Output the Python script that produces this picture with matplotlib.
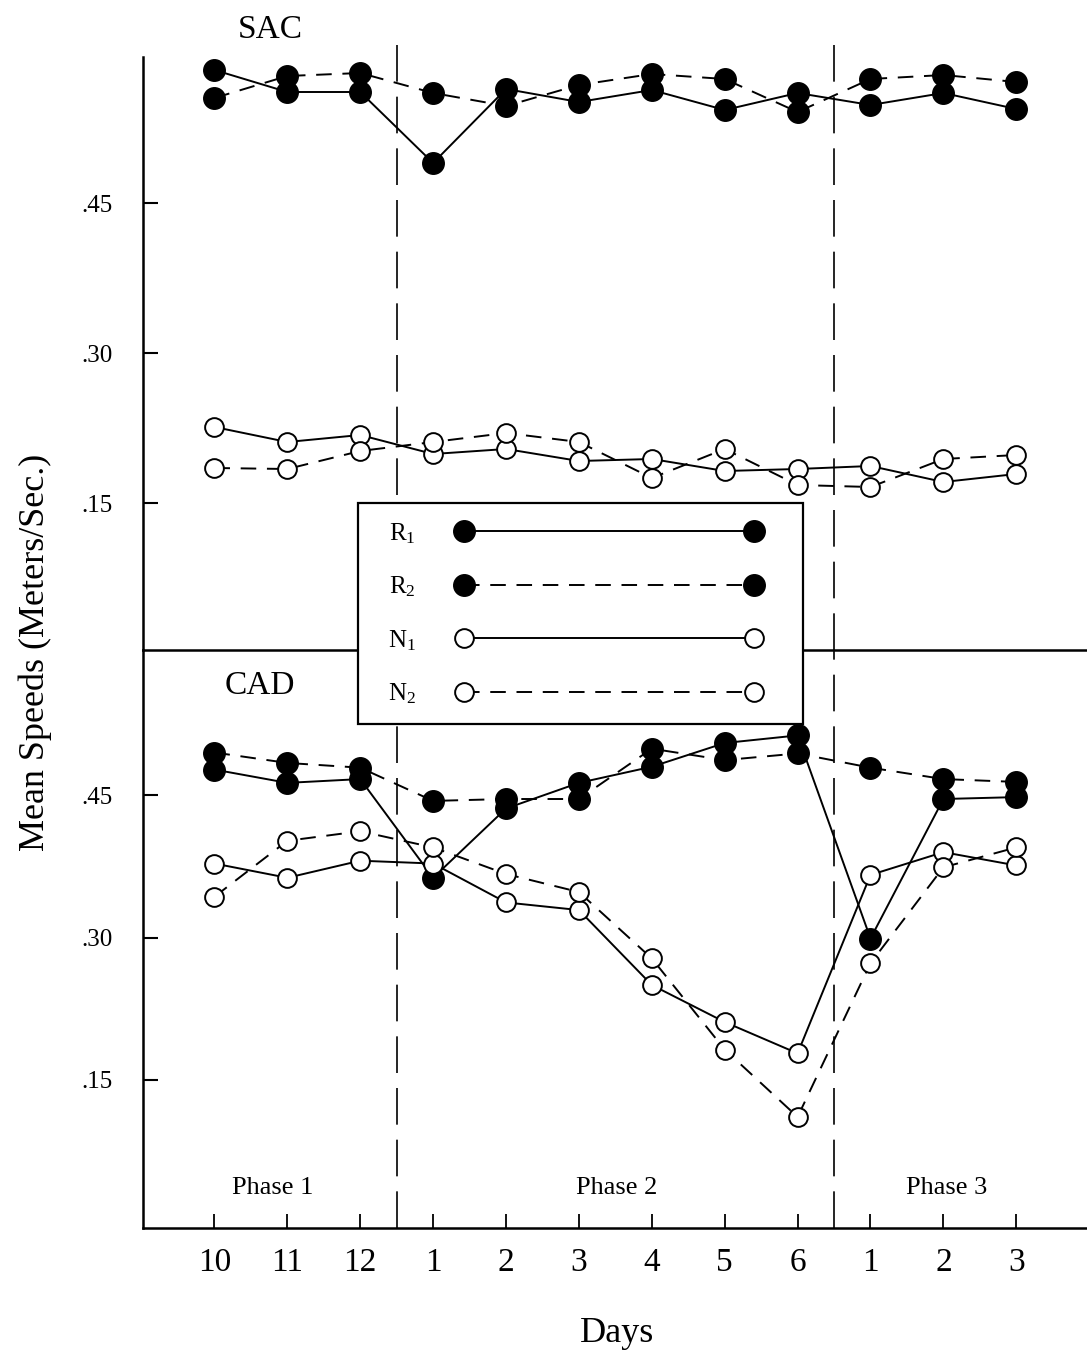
import matplotlib
matplotlib.use("Agg")
import matplotlib.pyplot as plt
from matplotlib.patches import Rectangle

plt.rcParams["font.family"] = "Liberation Serif"
plt.rcParams["mathtext.fontset"] = "custom"
plt.rcParams["mathtext.rm"] = "Liberation Serif"
plt.rcParams["mathtext.it"] = "Liberation Serif:italic"

days = ["10", "11", "12", "1", "2", "3", "4", "5", "6", "1", "2", "3"]
phases = ["Phase 1", "Phase 2", "Phase 3"]
phase_centers = [0.8, 5.52, 10.04]
phase_breaks = [2.5, 8.5]

# SAC (top panel)
sac_r1 = [0.583, 0.561, 0.561, 0.490, 0.564, 0.551, 0.563, 0.543, 0.560, 0.548, 0.560, 0.544]
sac_r2 = [0.555, 0.577, 0.580, 0.560, 0.547, 0.568, 0.579, 0.574, 0.541, 0.574, 0.578, 0.571]
sac_n1 = [0.226, 0.211, 0.218, 0.199, 0.204, 0.192, 0.194, 0.182, 0.184, 0.187, 0.171, 0.179]
sac_n2 = [0.185, 0.184, 0.202, 0.211, 0.220, 0.211, 0.175, 0.204, 0.168, 0.166, 0.194, 0.198]

# CAD (bottom panel)
cad_r1 = [0.477, 0.463, 0.467, 0.363, 0.436, 0.463, 0.480, 0.505, 0.513, 0.299, 0.446, 0.448]
cad_r2 = [0.495, 0.484, 0.479, 0.444, 0.446, 0.446, 0.499, 0.487, 0.494, 0.479, 0.467, 0.464]
cad_n1 = [0.378, 0.363, 0.381, 0.378, 0.337, 0.329, 0.250, 0.211, 0.178, 0.366, 0.390, 0.376]
cad_n2 = [0.343, 0.402, 0.412, 0.395, 0.367, 0.348, 0.278, 0.182, 0.111, 0.273, 0.374, 0.395]

labels = ["R$_1$", "R$_2$", "N$_1$", "N$_2$"]
yticks = [0.15, 0.30, 0.45]
ytick_labels = [".15", ".30", ".45"]

x = list(range(len(days)))
W, H = 1087, 1352
fig = plt.figure(figsize=(W / 100, H / 100), dpi=100)

left = 143 / W
ax_top = fig.add_axes([left, 1 - 650 / H, 1 - left, (650 - 57) / H])
ax_bot = fig.add_axes([left, 1 - 1228 / H, 1 - left, (1228 - 650) / H])

dash = (0, (8, 5.5))
styles = [
    dict(color="black", lw=1.4, ls="-", marker="o", ms=15.5, mfc="black", mec="black"),
    dict(color="black", lw=1.4, ls=dash, marker="o", ms=15.5, mfc="black", mec="black"),
    dict(color="black", lw=1.4, ls="-", marker="o", ms=13.5, mfc="white", mec="black", mew=1.4),
    dict(color="black", lw=1.4, ls=dash, marker="o", ms=13.5, mfc="white", mec="black", mew=1.4),
]

handles = []
for series, st in zip([sac_r1, sac_r2, sac_n1, sac_n2], styles):
    h, = ax_top.plot(x, series, clip_on=False, zorder=3, **st)
    handles.append(h)
for series, st in zip([cad_r1, cad_r2, cad_n1, cad_n2], styles):
    ax_bot.plot(x, series, clip_on=False, zorder=3, **st)

ax_top.set_ylim(0.003, 0.596)
ax_bot.set_ylim(-0.006, 0.603)
for ax in (ax_top, ax_bot):
    ax.patch.set_alpha(0)
    ax.set_xlim(-0.98, 11.97)
    ax.set_yticks(yticks)
    ax.set_yticklabels(ytick_labels, fontsize=18)
    ax.tick_params(axis="y", direction="in", length=11, width=1.5, pad=22)
    for s in ax.spines.values():
        s.set_linewidth(1.8)
    ax.spines["right"].set_visible(False)
    ax.spines["top"].set_visible(False)

ax_top.set_xticks([])
ax_bot.set_xticks(x)
ax_bot.set_xticklabels(days, fontsize=24)
ax_bot.tick_params(axis="x", direction="in", length=10, width=1.3, pad=14)

# phase boundaries
for b in phase_breaks:
    ax_top.axvline(b, ymin=0, ymax=1.03, color="black", lw=1.2, ls=(0, (22, 9)), clip_on=False)
    ax_bot.axvline(b, color="black", lw=1.2, ls=(0, (22, 9)))

for name, c in zip(phases, phase_centers):
    ax_bot.text(c, 0.036, name, ha="center", va="center", fontsize=19)

ax_top.text(0.77, 0.623, "SAC", ha="center", va="center", fontsize=24, clip_on=False)
ax_bot.text(0.62, 0.565, "CAD", ha="center", va="center", fontsize=24)

fig.text(617 / W, 1 - 1333 / H, "Days", ha="center", va="center", fontsize=26)
fig.text(35 / W, 1 - 652 / H, "Mean Speeds (Meters/Sec.)", ha="center", va="center",
         rotation=90, fontsize=26)

# legend box drawn as its own frame, entries placed inside it
box = Rectangle((358 / W, 1 - 724 / H), (803 - 358) / W, (724 - 503) / H,
                transform=fig.transFigure, facecolor="white", edgecolor="black",
                lw=1.6, zorder=5)
fig.add_artist(box)
leg = fig.legend(handles, labels, loc="upper left", bbox_to_anchor=(388 / W, 1 - 521 / H),
                 borderaxespad=0, borderpad=0, markerfirst=False, numpoints=2,
                 handlelength=12.2, handletextpad=1.6, labelspacing=1.16, fontsize=18,
                 frameon=False)
leg.set_zorder(10)

fig.savefig("out.png", dpi=100)
